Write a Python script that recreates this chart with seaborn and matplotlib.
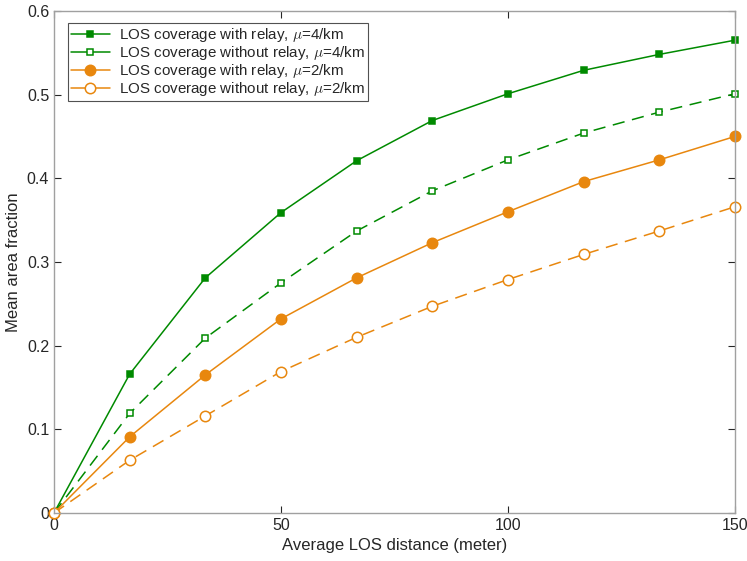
import numpy as np
import pandas as pd
import seaborn as sns
import matplotlib.pyplot as plt

distance = [0, 16.67, 33.33, 50, 66.67, 83.33, 100, 116.67, 133.33, 150]
relay_mu4 = [0, 0.166, 0.281, 0.359, 0.421, 0.469, 0.501, 0.529, 0.548, 0.565]
norelay_mu4 = [0, 0.119, 0.209, 0.275, 0.337, 0.385, 0.422, 0.454, 0.479, 0.501]
relay_mu2 = [0, 0.091, 0.165, 0.232, 0.281, 0.323, 0.360, 0.396, 0.422, 0.450]
norelay_mu2 = [0, 0.063, 0.116, 0.169, 0.210, 0.247, 0.279, 0.309, 0.337, 0.366]

labels = [
    r"LOS coverage with relay, $\mu$=4/km",
    r"LOS coverage without relay, $\mu$=4/km",
    r"LOS coverage with relay, $\mu$=2/km",
    r"LOS coverage without relay, $\mu$=2/km",
]

green = "#008a00"
orange = "#e8870e"

sns.set_style("white")
plt.rcParams["font.family"] = ["Liberation Sans", "DejaVu Sans"]
plt.rcParams["mathtext.fontset"] = "cm"

fig = plt.figure(figsize=(7.47, 5.61), dpi=100)
ax = fig.add_axes([0.0723, 0.0856, 0.9117, 0.895])

styles = [
    (relay_mu4, green, "-", "s", green, 5),
    (norelay_mu4, green, (0, (8, 5)), "s", "white", 5),
    (relay_mu2, orange, "-", "o", orange, 7.5),
    (norelay_mu2, orange, (0, (8, 5)), "o", "white", 7.5),
]
for (vals, col, ls, mk, fc, ms), lab in zip(styles, labels):
    df = pd.DataFrame({"x": distance, "y": vals})
    sns.lineplot(data=df, x="x", y="y", ax=ax, color=col, linestyle=ls,
                 marker=mk, markerfacecolor=fc, markeredgecolor=col,
                 markersize=ms, markeredgewidth=1.1, linewidth=1.1, label=lab)

ax.set_xlim(0, 150)
ax.set_ylim(0, 0.6)
ax.set_xticks([0, 50, 100, 150])
ax.set_yticks(np.arange(0, 0.61, 0.1))
ax.set_yticklabels(["0", "0.1", "0.2", "0.3", "0.4", "0.5", "0.6"])
ax.set_xlabel("Average LOS distance (meter)", fontsize=12, color="#262626")
ax.set_ylabel("Mean area fraction", fontsize=12, color="#262626")
ax.tick_params(direction="in", length=5, width=0.8, color="#262626",
               labelsize=11.5, labelcolor="#262626", top=True, right=True,
               bottom=True, left=True)
for sp in ax.spines.values():
    sp.set_color("#a0a0a0")
    sp.set_linewidth(1.0)
for ln in ax.get_lines():
    ln.set_clip_on(False)

leg = ax.legend(loc="upper left", bbox_to_anchor=(0.02, 0.976), fontsize=10.9,
                frameon=True, fancybox=False, handlelength=2.6,
                borderpad=0.2, labelspacing=0.0, handletextpad=0.6,
                borderaxespad=0)
leg.get_frame().set_edgecolor("#262626")
leg.get_frame().set_linewidth(0.8)
for h in leg.get_lines():
    h.set_linestyle("-")

fig.savefig("out.png", dpi=100)
